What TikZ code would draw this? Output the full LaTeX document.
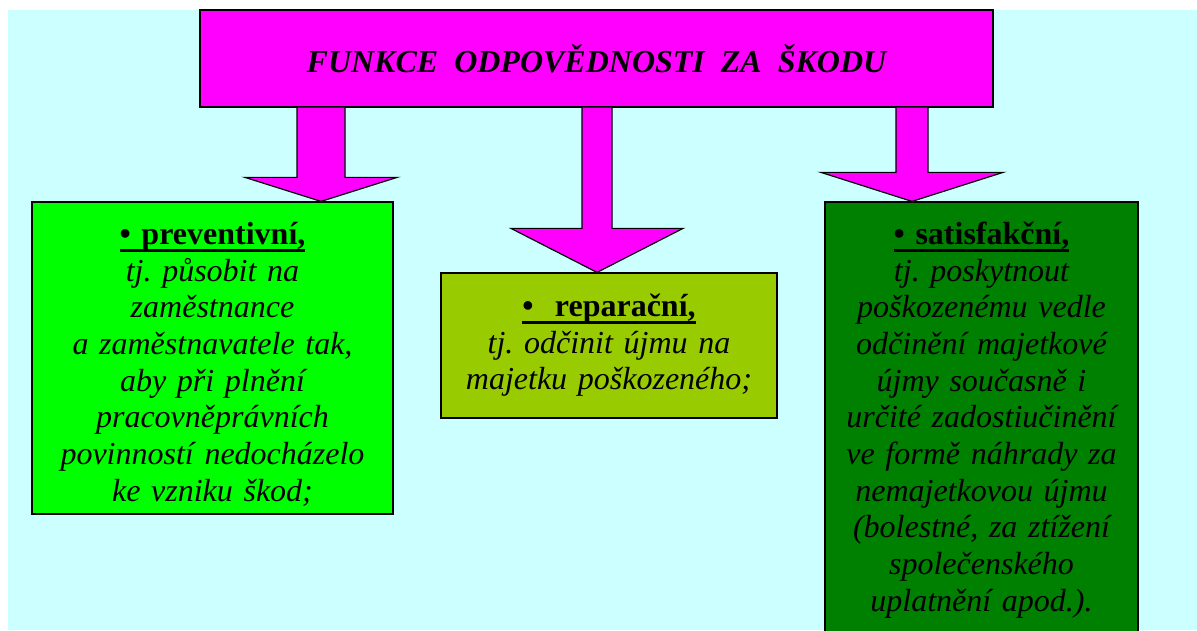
\documentclass[tikz,border=0pt]{standalone}
\usepackage{fontspec}
\setmainfont{Liberation Serif}
\usepackage{tikz}
\usetikzlibrary{calc,positioning}
\frenchspacing
\definecolor{skyback}{RGB}{204,255,255}
\definecolor{magentabox}{RGB}{255,0,255}
\definecolor{limebox}{RGB}{0,255,0}
\definecolor{olivebox}{RGB}{153,204,0}
\definecolor{darkgreenbox}{RGB}{0,128,0}
% underlined heading of a box
\newcommand{\headul}[1]{\setbox0=\hbox{#1}\rlap{\rule[-7.5pt]{\wd0}{2.7pt}}\box0}
% fat arrow from the title down to a tip: node, tip, shaft half, head half, head length
\newcommand{\fatarrow}[5]{%
  \filldraw[bigarrow] ($(#1.south -| #2)+(-#3,0)$) -- ($(#2)+(-#3,#5)$) -- ($(#2)+(-#4,#5)$)
    -- (#2) -- ($(#2)+(#4,#5)$) -- ($(#2)+(#3,#5)$) -- ($(#1.south -| #2)+(#3,0)$);}
\tikzset{
  titlebox/.style={draw, fill=magentabox, line width=1.2pt, minimum width=793pt,
    minimum height=97pt, inner sep=0pt, font=\fontsize{32}{36.7}\selectfont\bfseries\itshape},
  funcbox/.style={draw, line width=1.2pt, inner sep=0pt},
  functext/.style={anchor=base, align=center, inner sep=0pt,
    font=\fontsize{32}{36.7}\selectfont\itshape},
  bigarrow/.style={fill=magentabox, draw=black, line width=1.2pt, line join=miter}
}
\begin{document}
\begin{tikzpicture}[x=1pt, y=1pt]
\useasboundingbox (0,0) rectangle (1197,630);
\fill[skyback] (8,0) rectangle (1197,620);

\node[titlebox] (title) at (596.5,571.5) {FUNKCE\ \ ODPOVĚDNOSTI\ \ ZA\ \ ŠKODU};

\node[funcbox, fill=limebox, minimum width=361pt, minimum height=312pt] (prev) at (212.5,272) {};
\node[funcbox, fill=olivebox, minimum width=336pt, minimum height=145pt] (rep) at (609,284.5) {};
\node[funcbox, fill=darkgreenbox, minimum width=313pt, minimum height=438pt] (sat) at (981.5,209) {};

\node[functext, text width=361pt] (prevtxt) at ([yshift=-43pt]prev.north)
  {{\upshape\bfseries\headul{• preventivní,}}\\
   tj. působit na\\ zaměstnance\\ a zaměstnavatele tak,\\ aby při plnění\\
   pracovněprávních\\ povinností nedocházelo\\ ke vzniku škod;};
\node[functext, text width=336pt] (reptxt) at ([yshift=-44pt]rep.north)
  {{\upshape\bfseries\headul{•\ \ reparační,}}\\
   tj. odčinit újmu na\\ majetku poškozeného;};
\node[functext, text width=313pt] (sattxt) at ([yshift=-43pt]sat.north)
  {{\upshape\bfseries\headul{• satisfakční,}}\\
   tj. poskytnout\\ poškozenému vedle\\ odčinění majetkové\\ újmy současně i\\
   určité zadostiučinění\\ ve formě náhrady za\\ nemajetkovou újmu\\
   (bolestné, za ztížení\\ společenského\\ uplatnění apod.).};

% arrow tips on the tops of the boxes
\coordinate (tipP) at ([xshift=108.5pt]prev.north);
\coordinate (tipR) at ([xshift=-12pt]rep.north);
\coordinate (tipS) at ([xshift=-69.5pt]sat.north);

\fatarrow{title}{tipP}{24}{76}{24}
\fatarrow{title}{tipR}{15}{86}{44}
\fatarrow{title}{tipS}{16}{91}{29}
\end{tikzpicture}
\end{document}
